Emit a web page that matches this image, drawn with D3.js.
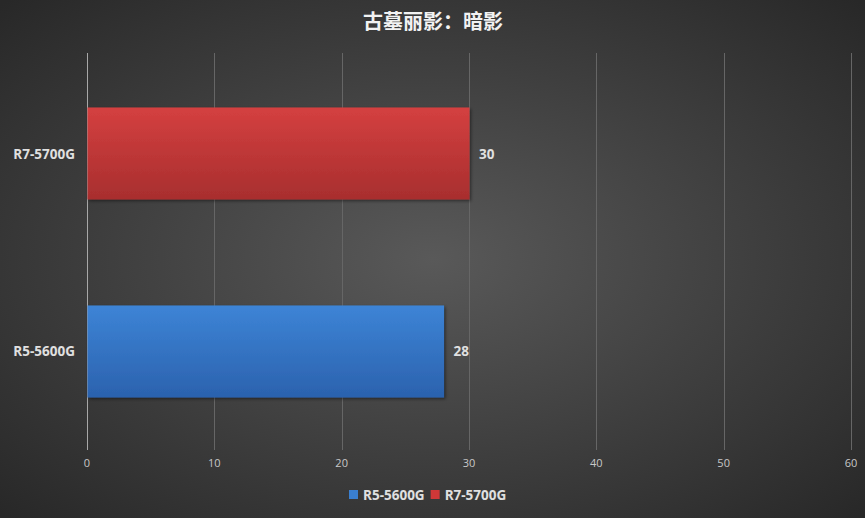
<!DOCTYPE html>
<html>
<head>
<meta charset="utf-8">
<script src="https://cdn.jsdelivr.net/npm/d3@7/dist/d3.min.js"></script>
<style>
  body { margin:0; padding:0; overflow:hidden; }
  svg { display:block; }
</style>
</head>
<body>
<div id="chart"></div>
<script>
// data
var title = "古墓丽影：暗影";
var categories = ["R5-5600G", "R7-5700G"];
var values = [28, 30];
var xTicks = [0, 10, 20, 30, 40, 50, 60];
var colorsTop = ["#3d84d6", "#d44040"];
var colorsBot = ["#2b62ae", "#a82e2e"];
var legendColors = ["#3a7fd0", "#d03838"];

var width = 865, height = 518;
var mLeft = 87, mRight = 851, mTop = 55, mBottom = 450;

var svg = d3.select("#chart").append("svg")
    .attr("width", width).attr("height", height);

var defs = svg.append("defs");
var bg = defs.append("radialGradient").attr("id", "bg")
    .attr("cx", "50%").attr("cy", "50%").attr("r", "70%");
bg.append("stop").attr("offset", "0%").attr("stop-color", "#595959");
bg.append("stop").attr("offset", "100%").attr("stop-color", "#282828");

categories.forEach(function(c, i){
    var g = defs.append("linearGradient").attr("id", "bar" + i)
        .attr("x1", 0).attr("y1", 0).attr("x2", 0).attr("y2", 1);
    g.append("stop").attr("offset", "0%").attr("stop-color", colorsTop[i]);
    g.append("stop").attr("offset", "100%").attr("stop-color", colorsBot[i]);
});
var sh = defs.append("filter").attr("id", "shadow")
    .attr("x", "-5%").attr("y", "-5%").attr("width", "115%").attr("height", "120%");
sh.append("feDropShadow").attr("dx", 1.5).attr("dy", 1.5).attr("stdDeviation", 1.5)
    .attr("flood-color", "#000").attr("flood-opacity", 0.45);

svg.append("rect").attr("width", width).attr("height", height).attr("fill", "url(#bg)");

var x = d3.scaleLinear().domain([0, 60]).range([mLeft, mRight]);
// top category is the last one
var y = d3.scaleBand().domain(categories.slice().reverse())
    .range([mTop, mBottom]).paddingInner(0.535).paddingOuter(0.265);

// gridlines
svg.append("g").selectAll("line").data(xTicks).enter().append("line")
    .attr("x1", function(d){ return Math.round(x(d)) + 0.5; })
    .attr("x2", function(d){ return Math.round(x(d)) + 0.5; })
    .attr("y1", mTop - 2).attr("y2", mBottom)
    .attr("stroke", function(d){ return d === 0 ? "#a8a8a8" : "#666666"; })
    .attr("stroke-width", 1);

// tick labels
svg.append("g").selectAll("text").data(xTicks).enter().append("text")
    .attr("x", function(d){ return x(d); })
    .attr("y", 467)
    .attr("text-anchor", "middle")
    .attr("font-family", "'Open Sans', 'Noto Sans', sans-serif")
    .attr("font-size", 11)
    .attr("fill", "#c8c8c8")
    .text(function(d){ return d; });

// bars
svg.append("g").selectAll("rect").data(categories).enter().append("rect")
    .attr("x", x(0) + 0.5)
    .attr("y", function(d){ return y(d); })
    .attr("width", function(d, i){ return x(values[i]) - x(0); })
    .attr("height", y.bandwidth())
    .attr("fill", function(d, i){ return "url(#bar" + i + ")"; })
    .attr("filter", "url(#shadow)");

// value labels
svg.append("g").selectAll("text").data(categories).enter().append("text")
    .attr("x", function(d, i){ return x(values[i]) + 10; })
    .attr("y", function(d){ return y(d) + y.bandwidth() / 2 + 5; })
    .attr("font-family", "'Open Sans', 'Noto Sans', sans-serif")
    .attr("font-weight", "bold")
    .attr("font-size", 13.5)
    .attr("fill", "#e0e0e0")
    .text(function(d, i){ return values[i]; });

// category labels
svg.append("g").selectAll("text").data(categories).enter().append("text")
    .attr("x", 75)
    .attr("y", function(d){ return y(d) + y.bandwidth() / 2 + 5; })
    .attr("text-anchor", "end")
    .attr("font-family", "'Open Sans', 'Noto Sans', sans-serif")
    .attr("font-weight", "bold")
    .attr("font-size", 13.5)
    .attr("fill", "#e0e0e0")
    .text(function(d){ return d; });

// title
svg.append("text")
    .attr("x", 433).attr("y", 29)
    .attr("text-anchor", "middle")
    .attr("font-family", "'Noto Sans CJK SC', sans-serif")
    .attr("font-weight", "bold")
    .attr("font-size", 20)
    .attr("fill", "#f2f2f2")
    .text(title);

// legend
var legend = svg.append("g").attr("transform", "translate(349,488)");
var lx = 0;
categories.forEach(function(c, i){
    var item = legend.append("g").attr("transform", "translate(" + lx + ",0)");
    item.append("rect").attr("width", 9).attr("height", 9).attr("y", 2)
        .attr("fill", legendColors[i]);
    var t = item.append("text").attr("x", 14).attr("y", 12)
        .attr("font-family", "'Open Sans', 'Noto Sans', sans-serif")
        .attr("font-weight", "bold")
        .attr("font-size", 13.5)
        .attr("fill", "#e0e0e0")
        .text(c);
    lx += 14 + t.node().getComputedTextLength() + 6;
});
</script>
</body>
</html>
